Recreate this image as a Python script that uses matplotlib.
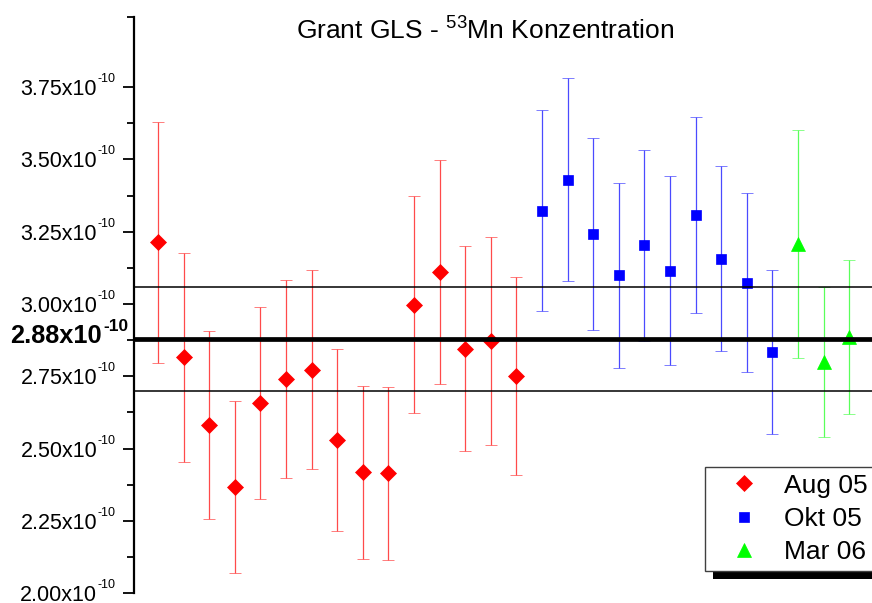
import numpy as np
import matplotlib
matplotlib.use("Agg")
import matplotlib.pyplot as plt
from matplotlib.patches import Rectangle
from matplotlib.lines import Line2D
from matplotlib.ticker import FixedLocator

plt.rcParams['font.family'] = ['Liberation Sans', 'DejaVu Sans']
plt.rcParams['mathtext.fontset'] = 'custom'
plt.rcParams['mathtext.rm'] = 'Liberation Sans'
plt.rcParams['mathtext.default'] = 'regular'

# 53Mn concentrations in units of 1e-10, symmetric 1-sigma errors
aug_x = np.arange(1, 16)
aug_val = [3.213, 2.816, 2.581, 2.367, 2.659, 2.741, 2.773, 2.530, 2.418, 2.415,
           2.997, 3.111, 2.845, 2.872, 2.751]
aug_err = [0.416, 0.361, 0.324, 0.296, 0.332, 0.342, 0.344, 0.313, 0.299, 0.299,
           0.375, 0.387, 0.354, 0.359, 0.342]

okt_x = np.arange(16, 26)
okt_val = [3.323, 3.430, 3.243, 3.099, 3.203, 3.115, 3.307, 3.157, 3.074, 2.833]
okt_err = [0.348, 0.351, 0.332, 0.320, 0.331, 0.326, 0.338, 0.321, 0.309, 0.284]

mar_x = np.arange(26, 29)
mar_val = [3.206, 2.800, 2.885]
mar_err = [0.394, 0.259, 0.266]

mean_val = 2.88
band = [2.70, 3.06]

yticks = [2.00, 2.25, 2.50, 2.75, 3.00, 3.25, 3.50, 3.75]
ytick_labels = ['%.2fx10' % v for v in yticks]

W, H = 872, 603
fig = plt.figure(figsize=(W / 100, H / 100), dpi=100)
# axes run off the right edge of the figure
ax = fig.add_axes([134 / W, (H - 593.3) / H, (898 - 134) / W, (593.3 - 17) / H])

y_top = 3.992
x_left = 1 - 24 / 25.6
x_right = 1 + (898 - 158) / 25.6

series = [
    (aug_x, aug_val, aug_err, 'D', '#ff0000', '#ff4a4a', 7.8, 'Aug 05'),
    (okt_x, okt_val, okt_err, 's', '#0000ff', '#4a4aff', 7.7, 'Okt 05'),
    (mar_x, mar_val, mar_err, '^', '#00ff00', '#5aff5a', 10.5, 'Mar 06'),
]
handles = []
for x, v, e, mk, col, ecol, ms, lab in series:
    ax.errorbar(x, v, yerr=e, fmt=mk, color=col, ecolor=ecol, markersize=ms,
                markeredgecolor=col, markeredgewidth=0.5, elinewidth=0.9,
                capsize=4, capthick=0.9, linestyle='none')
    handles.append(Line2D([], [], marker=mk, color=col, markersize=ms, linestyle='none',
                          markeredgewidth=0.5, label=lab))

ax.axhline(mean_val, color='black', lw=3.4, zorder=4)
for b in band:
    ax.axhline(b, color='black', lw=1.1, zorder=4)

ax.set_xlim(x_left, x_right)
ax.set_ylim(2.0, y_top)

for s in ['top', 'right', 'bottom']:
    ax.spines[s].set_visible(False)
ax.spines['left'].set_linewidth(1.6)
ax.set_xticks([])

ax.yaxis.set_major_locator(FixedLocator(yticks))
ax.set_yticklabels(ytick_labels, fontsize=15.5)
minor = [v + 0.125 for v in yticks[:-1]] + [y_top]
ax.yaxis.set_minor_locator(FixedLocator(minor))
ax.tick_params(axis='y', which='major', length=8, width=1.3, pad=18.5)
ax.tick_params(axis='y', which='minor', length=5, width=1.3)

# exponent after each tick label
for v in yticks:
    ax.annotate('-10', xy=(0, v), xycoords=('axes fraction', 'data'),
                xytext=(-36, 8), textcoords='offset pixels', fontsize=9,
                ha='left', va='center', annotation_clip=False)

# mean value label
ax.annotate('2.88x10', xy=(0, mean_val), xycoords=('axes fraction', 'data'),
            xytext=(-32, 3), textcoords='offset pixels', fontsize=18.3,
            fontweight='bold', ha='right', va='center', annotation_clip=False)
ax.annotate('-10', xy=(0, mean_val), xycoords=('axes fraction', 'data'),
            xytext=(-31, 12), textcoords='offset pixels', fontsize=12.5,
            fontweight='bold', ha='left', va='center', annotation_clip=False)

fig.text(485 / W, 1 - 31 / H, 'Grant GLS - $^{53}$Mn Konzentration', fontsize=19,
         ha='center', va='center')

leg = ax.legend(handles=handles, loc='upper left', bbox_to_anchor=(704.7 / W, 1 - 467 / H),
                bbox_transform=fig.transFigure, fontsize=19, frameon=True, fancybox=False,
                framealpha=1, edgecolor='#404040', borderpad=0.25, labelspacing=0.35,
                handlelength=2.5, handletextpad=0.25, borderaxespad=0)
leg.get_frame().set_linewidth(1.0)

# drop shadow offset down and to the right of the legend box
fig.canvas.draw()
bb = leg.get_window_extent()
off = 8
shadow = Rectangle(((bb.x0 + off) / W, (bb.y0 - off) / H), bb.width / W, bb.height / H,
                   transform=fig.transFigure, facecolor='black', edgecolor='none',
                   zorder=4.9, clip_on=False)
ax.add_patch(shadow)
leg.set_zorder(6)

fig.savefig('out.png', dpi=100)
